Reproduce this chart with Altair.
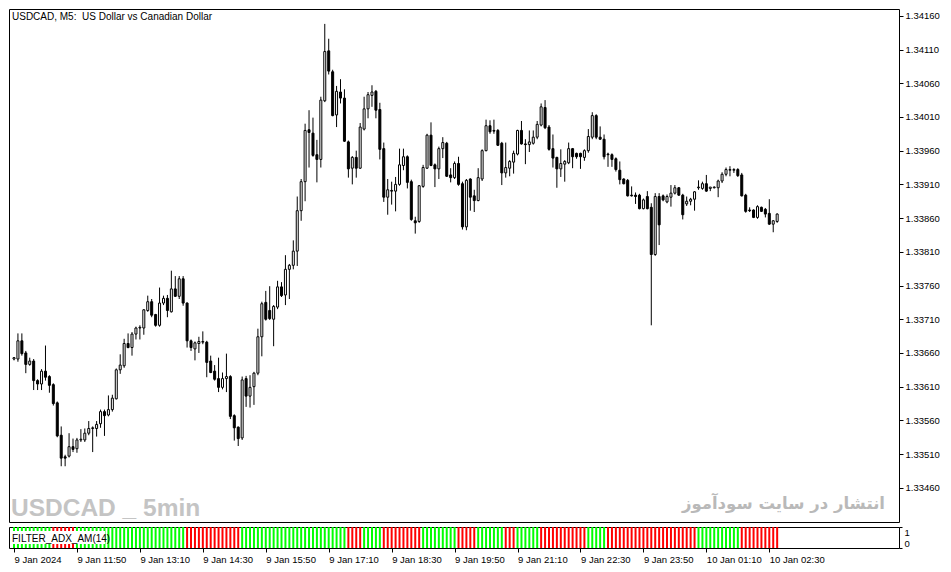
import altair as alt
import pandas as pd

# ---------------- data ----------------
opens = [1.33651, 1.33651, 1.33678, 1.33660, 1.33643, 1.33648, 1.33619, 1.33614, 1.33633, 1.33625,
         1.33613, 1.33586, 1.33538, 1.33506, 1.33507, 1.33521, 1.33518, 1.33531, 1.33531, 1.33541,
         1.33548, 1.33548, 1.33555, 1.33573, 1.33568, 1.33576, 1.33592, 1.33635, 1.33641, 1.33674,
         1.33668, 1.33688, 1.33697, 1.33697, 1.33723, 1.33736, 1.33717, 1.33701, 1.33734, 1.33741,
         1.33721, 1.33755, 1.33744, 1.33770, 1.33734, 1.33678, 1.33666, 1.33674, 1.33676, 1.33676,
         1.33648, 1.33633, 1.33622, 1.33609, 1.33622, 1.33625, 1.33567, 1.33550, 1.33534, 1.33622,
         1.33596, 1.33610, 1.33630, 1.33684, 1.33735, 1.33723, 1.33710, 1.33728, 1.33758, 1.33746,
         1.33784, 1.33790, 1.33811, 1.33871, 1.33914, 1.33991, 1.33986, 1.33954, 1.33947, 1.34034,
         1.34108, 1.34077, 1.34013, 1.34047, 1.34038, 1.33973, 1.33934, 1.33950, 1.33934, 1.33992,
         1.34022, 1.34042, 1.34048, 1.34021, 1.33963, 1.33891, 1.33901, 1.33900, 1.33910, 1.33938,
         1.33951, 1.33914, 1.33856, 1.33855, 1.33907, 1.33934, 1.33983, 1.33939, 1.33933, 1.33963,
         1.33971, 1.33924, 1.33920, 1.33941, 1.33911, 1.33847, 1.33918, 1.33893, 1.33886, 1.33918,
         1.33960, 1.33997, 1.33990, 1.33990, 1.33971, 1.33927, 1.33934, 1.33943, 1.33955, 1.33990,
         1.33970, 1.33969, 1.33971, 1.33980, 1.33998, 1.34024, 1.33995, 1.33963, 1.33950, 1.33933,
         1.33940, 1.33942, 1.33963, 1.33956, 1.33956, 1.33950, 1.33960, 1.33980, 1.34012, 1.33980,
         1.33977, 1.33955, 1.33954, 1.33948, 1.33931, 1.33918, 1.33916, 1.33894, 1.33894, 1.33894,
         1.33874, 1.33892, 1.33876, 1.33806, 1.33892, 1.33893, 1.33884, 1.33891, 1.33897, 1.33905,
         1.33894, 1.33881, 1.33885, 1.33888, 1.33905, 1.33904, 1.33911, 1.33904, 1.33905, 1.33905,
         1.33915, 1.33925, 1.33931, 1.33931, 1.33932, 1.33924, 1.33894, 1.33872, 1.33872, 1.33861,
         1.33876, 1.33873, 1.33867, 1.33851, 1.33855]

highs = [1.33654, 1.33689, 1.33689, 1.33663, 1.33653, 1.33651, 1.33621, 1.33636, 1.33671, 1.33627,
         1.33615, 1.33588, 1.33551, 1.33509, 1.33541, 1.33533, 1.33534, 1.33547, 1.33548, 1.33559,
         1.33551, 1.33559, 1.33576, 1.33576, 1.33597, 1.33598, 1.33637, 1.33658, 1.33681, 1.33689,
         1.33691, 1.33699, 1.33701, 1.33725, 1.33745, 1.33740, 1.33718, 1.33757, 1.33745, 1.33746,
         1.33782, 1.33774, 1.33774, 1.33774, 1.33735, 1.33680, 1.33677, 1.33684, 1.33692, 1.33678,
         1.33656, 1.33642, 1.33653, 1.33631, 1.33659, 1.33627, 1.33569, 1.33551, 1.33625, 1.33626,
         1.33627, 1.33632, 1.33696, 1.33736, 1.33752, 1.33759, 1.33731, 1.33767, 1.33765, 1.33805,
         1.33792, 1.33827, 1.33892, 1.33918, 1.34000, 1.34020, 1.34009, 1.33976, 1.34040, 1.34148,
         1.34126, 1.34080, 1.34056, 1.34066, 1.34051, 1.33975, 1.33952, 1.33960, 1.34001, 1.34040,
         1.34047, 1.34057, 1.34050, 1.34031, 1.33972, 1.33918, 1.33914, 1.33921, 1.33963, 1.33963,
         1.33953, 1.33917, 1.33862, 1.33909, 1.33939, 1.33985, 1.34002, 1.33941, 1.33966, 1.33980,
         1.33973, 1.33934, 1.33944, 1.33951, 1.33914, 1.33918, 1.33919, 1.33902, 1.33934, 1.33962,
         1.34006, 1.34005, 1.34006, 1.33992, 1.33973, 1.33972, 1.33946, 1.33960, 1.33991, 1.34004,
         1.33977, 1.33990, 1.33990, 1.34004, 1.34030, 1.34035, 1.33998, 1.33984, 1.33951, 1.33962,
         1.33946, 1.33972, 1.33964, 1.33957, 1.33957, 1.33962, 1.33992, 1.34017, 1.34014, 1.33996,
         1.33984, 1.33957, 1.33956, 1.33950, 1.33944, 1.33919, 1.33918, 1.33907, 1.33898, 1.33896,
         1.33889, 1.33900, 1.33882, 1.33897, 1.33897, 1.33895, 1.33895, 1.33909, 1.33909, 1.33906,
         1.33896, 1.33892, 1.33890, 1.33900, 1.33916, 1.33914, 1.33924, 1.33906, 1.33907, 1.33917,
         1.33928, 1.33935, 1.33937, 1.33934, 1.33934, 1.33927, 1.33896, 1.33876, 1.33873, 1.33879,
         1.33877, 1.33875, 1.33888, 1.33857, 1.33867]

lows = [1.33649, 1.33647, 1.33656, 1.33630, 1.33641, 1.33605, 1.33605, 1.33605, 1.33619, 1.33601,
        1.33582, 1.33535, 1.33492, 1.33492, 1.33505, 1.33513, 1.33512, 1.33528, 1.33528, 1.33538,
        1.33513, 1.33536, 1.33549, 1.33537, 1.33566, 1.33573, 1.33591, 1.33629, 1.33638, 1.33667,
        1.33656, 1.33680, 1.33680, 1.33687, 1.33721, 1.33713, 1.33699, 1.33699, 1.33731, 1.33713,
        1.33720, 1.33743, 1.33740, 1.33730, 1.33668, 1.33663, 1.33649, 1.33660, 1.33673, 1.33624,
        1.33630, 1.33619, 1.33602, 1.33606, 1.33602, 1.33562, 1.33530, 1.33522, 1.33531, 1.33580,
        1.33579, 1.33583, 1.33627, 1.33655, 1.33708, 1.33709, 1.33670, 1.33725, 1.33743, 1.33731,
        1.33740, 1.33784, 1.33789, 1.33856, 1.33885, 1.33935, 1.33951, 1.33913, 1.33935, 1.34032,
        1.34073, 1.34011, 1.33995, 1.34030, 1.33973, 1.33920, 1.33910, 1.33920, 1.33933, 1.33990,
        1.34008, 1.34025, 1.34008, 1.33947, 1.33884, 1.33865, 1.33880, 1.33870, 1.33908, 1.33931,
        1.33904, 1.33856, 1.33837, 1.33853, 1.33905, 1.33933, 1.33937, 1.33906, 1.33918, 1.33949,
        1.33921, 1.33913, 1.33918, 1.33908, 1.33843, 1.33842, 1.33871, 1.33869, 1.33885, 1.33915,
        1.33959, 1.33985, 1.33985, 1.33967, 1.33909, 1.33920, 1.33922, 1.33926, 1.33953, 1.33969,
        1.33940, 1.33958, 1.33969, 1.33977, 1.33996, 1.33992, 1.33960, 1.33935, 1.33905, 1.33921,
        1.33914, 1.33940, 1.33934, 1.33948, 1.33933, 1.33945, 1.33957, 1.33977, 1.33977, 1.33976,
        1.33947, 1.33936, 1.33936, 1.33929, 1.33910, 1.33910, 1.33892, 1.33892, 1.33881, 1.33873,
        1.33873, 1.33873, 1.33701, 1.33804, 1.33820, 1.33885, 1.33882, 1.33877, 1.33895, 1.33893,
        1.33858, 1.33878, 1.33879, 1.33871, 1.33902, 1.33902, 1.33899, 1.33900, 1.33904, 1.33891,
        1.33912, 1.33922, 1.33922, 1.33927, 1.33921, 1.33892, 1.33868, 1.33869, 1.33860, 1.33859,
        1.33869, 1.33861, 1.33850, 1.33839, 1.33853]

closes = [1.33653, 1.33678, 1.33659, 1.33643, 1.33648, 1.33619, 1.33614, 1.33633, 1.33624, 1.33612,
          1.33585, 1.33537, 1.33504, 1.33504, 1.33521, 1.33517, 1.33531, 1.33532, 1.33541, 1.33548,
          1.33549, 1.33554, 1.33573, 1.33567, 1.33576, 1.33593, 1.33635, 1.33642, 1.33674, 1.33668,
          1.33688, 1.33697, 1.33698, 1.33724, 1.33736, 1.33716, 1.33701, 1.33734, 1.33741, 1.33723,
          1.33755, 1.33744, 1.33770, 1.33734, 1.33678, 1.33668, 1.33675, 1.33677, 1.33677, 1.33646,
          1.33631, 1.33621, 1.33609, 1.33622, 1.33625, 1.33566, 1.33549, 1.33533, 1.33620, 1.33596,
          1.33609, 1.33630, 1.33684, 1.33733, 1.33710, 1.33711, 1.33729, 1.33758, 1.33745, 1.33784,
          1.33790, 1.33811, 1.33871, 1.33914, 1.33990, 1.33987, 1.33953, 1.33947, 1.34035, 1.34107,
          1.34078, 1.34012, 1.34048, 1.34038, 1.33974, 1.33933, 1.33950, 1.33934, 1.33995, 1.34022,
          1.34043, 1.34047, 1.34020, 1.33962, 1.33891, 1.33902, 1.33900, 1.33910, 1.33939, 1.33951,
          1.33913, 1.33858, 1.33853, 1.33908, 1.33935, 1.33983, 1.33938, 1.33933, 1.33963, 1.33972,
          1.33922, 1.33920, 1.33941, 1.33910, 1.33847, 1.33916, 1.33891, 1.33886, 1.33920, 1.33960,
          1.33997, 1.33988, 1.33989, 1.33968, 1.33927, 1.33935, 1.33944, 1.33956, 1.33990, 1.33970,
          1.33969, 1.33973, 1.33980, 1.33999, 1.34025, 1.33994, 1.33962, 1.33949, 1.33933, 1.33941,
          1.33944, 1.33963, 1.33951, 1.33951, 1.33951, 1.33960, 1.33981, 1.34012, 1.33980, 1.33977,
          1.33951, 1.33954, 1.33947, 1.33932, 1.33917, 1.33911, 1.33893, 1.33893, 1.33892, 1.33874,
          1.33887, 1.33874, 1.33806, 1.33892, 1.33850, 1.33887, 1.33892, 1.33897, 1.33905, 1.33894,
          1.33865, 1.33885, 1.33888, 1.33899, 1.33906, 1.33911, 1.33900, 1.33906, 1.33906, 1.33915,
          1.33925, 1.33932, 1.33932, 1.33932, 1.33923, 1.33893, 1.33870, 1.33871, 1.33861, 1.33877,
          1.33870, 1.33866, 1.33851, 1.33856, 1.33866]

# FILTER_ADX_AM(14) state per bar: G = green, R = red
signal = ("GGGGGGGGGG" "RRRRRR" "GGGGGGGGGGGGGGGGGGGGGGGGGGGG" "RRRRRRRRRRRRRR"
          "GGGGGGGGGGGGGGGGGGGGGGGGGGG" "RRRR" "GGGGG" "RRRRRRRRRR" "GGGGGGGGG" "RRRRR"
          "GGGGGGG" "RRR" "GGGGGG" "RRRRRRRRRRRR" "GGGGG" "RRRRRRRRRRRRRRRRRRRRRRR" "GGGGGGGGGGG"
          "RRRRRRRRRR")

time_tick_bars = [0, 16, 32, 48, 64, 80, 96, 112, 128, 144, 160, 176, 192]
time_labels = ["9 Jan 2024", "9 Jan 11:50", "9 Jan 13:10", "9 Jan 14:30", "9 Jan 15:50",
               "9 Jan 17:10", "9 Jan 18:30", "9 Jan 19:50", "9 Jan 21:10", "9 Jan 22:30",
               "9 Jan 23:50", "10 Jan 01:10", "10 Jan 02:30"]
price_ticks = [1.33460, 1.33510, 1.33560, 1.33610, 1.33660, 1.33710, 1.33760, 1.33810,
               1.33860, 1.33910, 1.33960, 1.34010, 1.34060, 1.34110, 1.34160]
price_range = [1.334093, 1.341701]
bar_range = [0, 223.7]

chart_title = ["USDCAD,\u00a0M5:\u00a0\u00a0US Dollar vs Canadian Dollar"]
watermark_left = ["USDCAD _ 5min"]
watermark_right = ["انتشار در سایت سودآموز"]
indicator_name = ["FILTER_ADX_AM(14)"]

# ---------------- tables ----------------
n = len(opens)
candles = pd.DataFrame({"i": list(range(n)), "open": opens, "high": highs,
                        "low": lows, "close": closes})
candles["dir"] = ["up" if c >= o else "down" for o, c in zip(opens, closes)]

ind = pd.DataFrame({"i": list(range(len(signal))), "sig": list(signal)})
ind["lo"] = 0
ind["hi"] = 1

FONT = "Liberation Sans"
x_scale = alt.Scale(domain=bar_range, nice=False, zero=False)
y_scale = alt.Scale(domain=price_range, nice=False, zero=False)
price_axis = alt.Axis(orient="right", values=price_ticks, format=".5f", grid=False,
                      domain=False, tickSize=4, labelPadding=2, labelOverlap=False)

wicks = alt.Chart(candles).mark_rule(color="black", strokeWidth=1, clip=True).encode(
    x=alt.X("i:Q", scale=x_scale, axis=None),
    y=alt.Y("low:Q", scale=y_scale, title=None, axis=price_axis),
    y2="high:Q",
)

bodies = alt.Chart(candles).mark_bar(size=2, stroke="black", strokeWidth=1, clip=True).encode(
    x=alt.X("i:Q", scale=x_scale, axis=None),
    y=alt.Y("open:Q", scale=y_scale, title=None, axis=price_axis),
    y2="close:Q",
    fill=alt.Fill("dir:N", scale=alt.Scale(domain=["up", "down"], range=["white", "black"]),
                  legend=None),
)

title_txt = alt.Chart(pd.DataFrame({"t": chart_title})).mark_text(
    align="left", baseline="alphabetic", font=FONT, fontSize=10, color="black"
).encode(x=alt.value(3), y=alt.value(11), text="t:N")

wm_left = alt.Chart(pd.DataFrame({"t": watermark_left})).mark_text(
    align="left", baseline="alphabetic", font=FONT,
    fontSize=24.5, fontWeight="bold", color="#c4c4c4"
).encode(x=alt.value(2), y=alt.value(507), text="t:N")

wm_right = alt.Chart(pd.DataFrame({"t": watermark_right})).mark_text(
    align="right", baseline="alphabetic", font="DejaVu Sans", fontSize=16.5,
    fontWeight="bold", color="#b9b9b9"
).encode(x=alt.value(876), y=alt.value(500), text="t:N")

main = alt.layer(wicks, bodies, title_txt, wm_left, wm_right).properties(width=890, height=513)

label_expr = "[" + ",".join("'" + s + "'" for s in time_labels) + "][round(datum.value / 16)]"

ind_bars = alt.Chart(ind).mark_bar(size=2, clip=True).encode(
    x=alt.X("i:Q", scale=x_scale, title=None,
            axis=alt.Axis(values=time_tick_bars, labelExpr=label_expr, labelAlign="left",
                          labelPadding=2, tickSize=4, domain=False, grid=False,
                          labelFlush=False, labelOverlap=False)),
    y=alt.Y("lo:Q", scale=alt.Scale(domain=[0, 1], nice=False), title=None,
            axis=alt.Axis(orient="right", values=[0, 1], format="d", labelFlush=True,
                          tickSize=3, labelPadding=2, domain=False, grid=False,
                          labelOverlap=False)),
    y2="hi:Q",
    color=alt.Color("sig:N", scale=alt.Scale(domain=["G", "R"], range=["#00ff00", "#ff0000"]),
                    legend=None),
)

name_box = alt.Chart(pd.DataFrame({"t": indicator_name})).mark_rect(fill="white").encode(
    x=alt.value(2), x2=alt.value(96), y=alt.value(4), y2=alt.value(17))

name_txt = alt.Chart(pd.DataFrame({"t": indicator_name})).mark_text(
    align="left", baseline="alphabetic", font=FONT, fontSize=10, color="black"
).encode(x=alt.value(3), y=alt.value(14.5), text="t:N")

indicator = alt.layer(ind_bars, name_box, name_txt).properties(width=890, height=21)

chart = alt.vconcat(main, indicator, spacing=3).properties(
    padding=0, background="white"
).configure_view(
    stroke="black", strokeWidth=1
).configure_axis(
    labelFont=FONT, labelFontSize=9.5, labelColor="black", tickColor="black"
)

chart.save("out.html", embed_options={"renderer": "svg", "actions": False})
